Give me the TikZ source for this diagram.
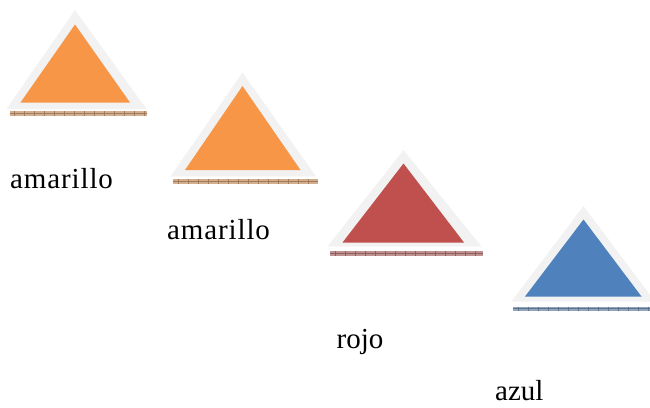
\documentclass[tikz,border=0pt]{standalone}
\usepackage{fontspec}
\setmainfont{Liberation Serif}
\definecolor{shade}{HTML}{F2F2F2}
\definecolor{torange}{HTML}{F79646}
\definecolor{tred}{HTML}{C0504D}
\definecolor{tblue}{HTML}{4F81BD}
\definecolor{tgray}{RGB}{165,165,165}
\tikzset{
  rim/.style={fill=shade},
  face/.style={fill=#1},
  band/.style={fill=#1!45!tgray!85!white},
  bandline/.style={draw=#1!50!tgray!78!black, line width=0.45bp},
  label/.style={anchor=base west, inner sep=0pt, font=\fontsize{29bp}{34bp}\selectfont}
}
\begin{document}
\begin{tikzpicture}[x=1bp, y=-1bp]
\useasboundingbox (0,0) rectangle (650,407);
% apex x, outer apex y, outer base y, outer left, outer right,
% inner apex y, inner base y, inner left, inner right,
% band left, band right, band top, band bottom, colour
\foreach \ax/\oay/\oby/\obl/\obr/\iay/\iby/\ibl/\ibr/\sl/\sr/\st/\sb/\c in {
  75/10/109/6.5/146.5/24.5/102.5/20.5/130/9.5/146.5/111/116/torange,
  242.5/72.5/176.5/170.5/316/86/170/185/300.5/173/318/178.5/183.5/torange,
  403.5/150/246.5/327.5/481.5/163.5/242.5/342.5/464/330/483/251/255.5/tred,
  583.5/206/301.5/511.5/655/219.5/296.5/525/641.5/513/650/306.5/310.5/tblue}
{
  % base band with a small brick hatching
  \fill[band=\c] (\sl,\st) rectangle (\sr,\sb);
  \draw[bandline=\c] (\sl,{(\st+\sb)/2}) -- (\sr,{(\st+\sb)/2});
  \foreach \k in {0,...,14}{
    \pgfmathsetmacro{\tx}{\sl+5+\k*10}
    \ifdim\tx pt<\sr pt
      \draw[bandline=\c] (\tx,\st) -- (\tx,\sb);
    \fi
  }
  % light rim and coloured face
  \fill[rim] (\ax,\oay) -- (\obr,\oby) -- (\obl,\oby) -- cycle;
  \fill[face=\c] (\ax,\iay) -- (\ibr,\iby) -- (\ibl,\iby) -- cycle;
}
\node[label] (l1) at (10,188.5) {\addfontfeature{LetterSpace=3}amarillo};
\node[label] (l2) at (167,239.5) {\addfontfeature{LetterSpace=3}amarillo};
\node[label] (l3) at (336.5,348.5) {rojo};
\node[label] (l4) at (495,400.5) {azul};
\end{tikzpicture}
\end{document}
